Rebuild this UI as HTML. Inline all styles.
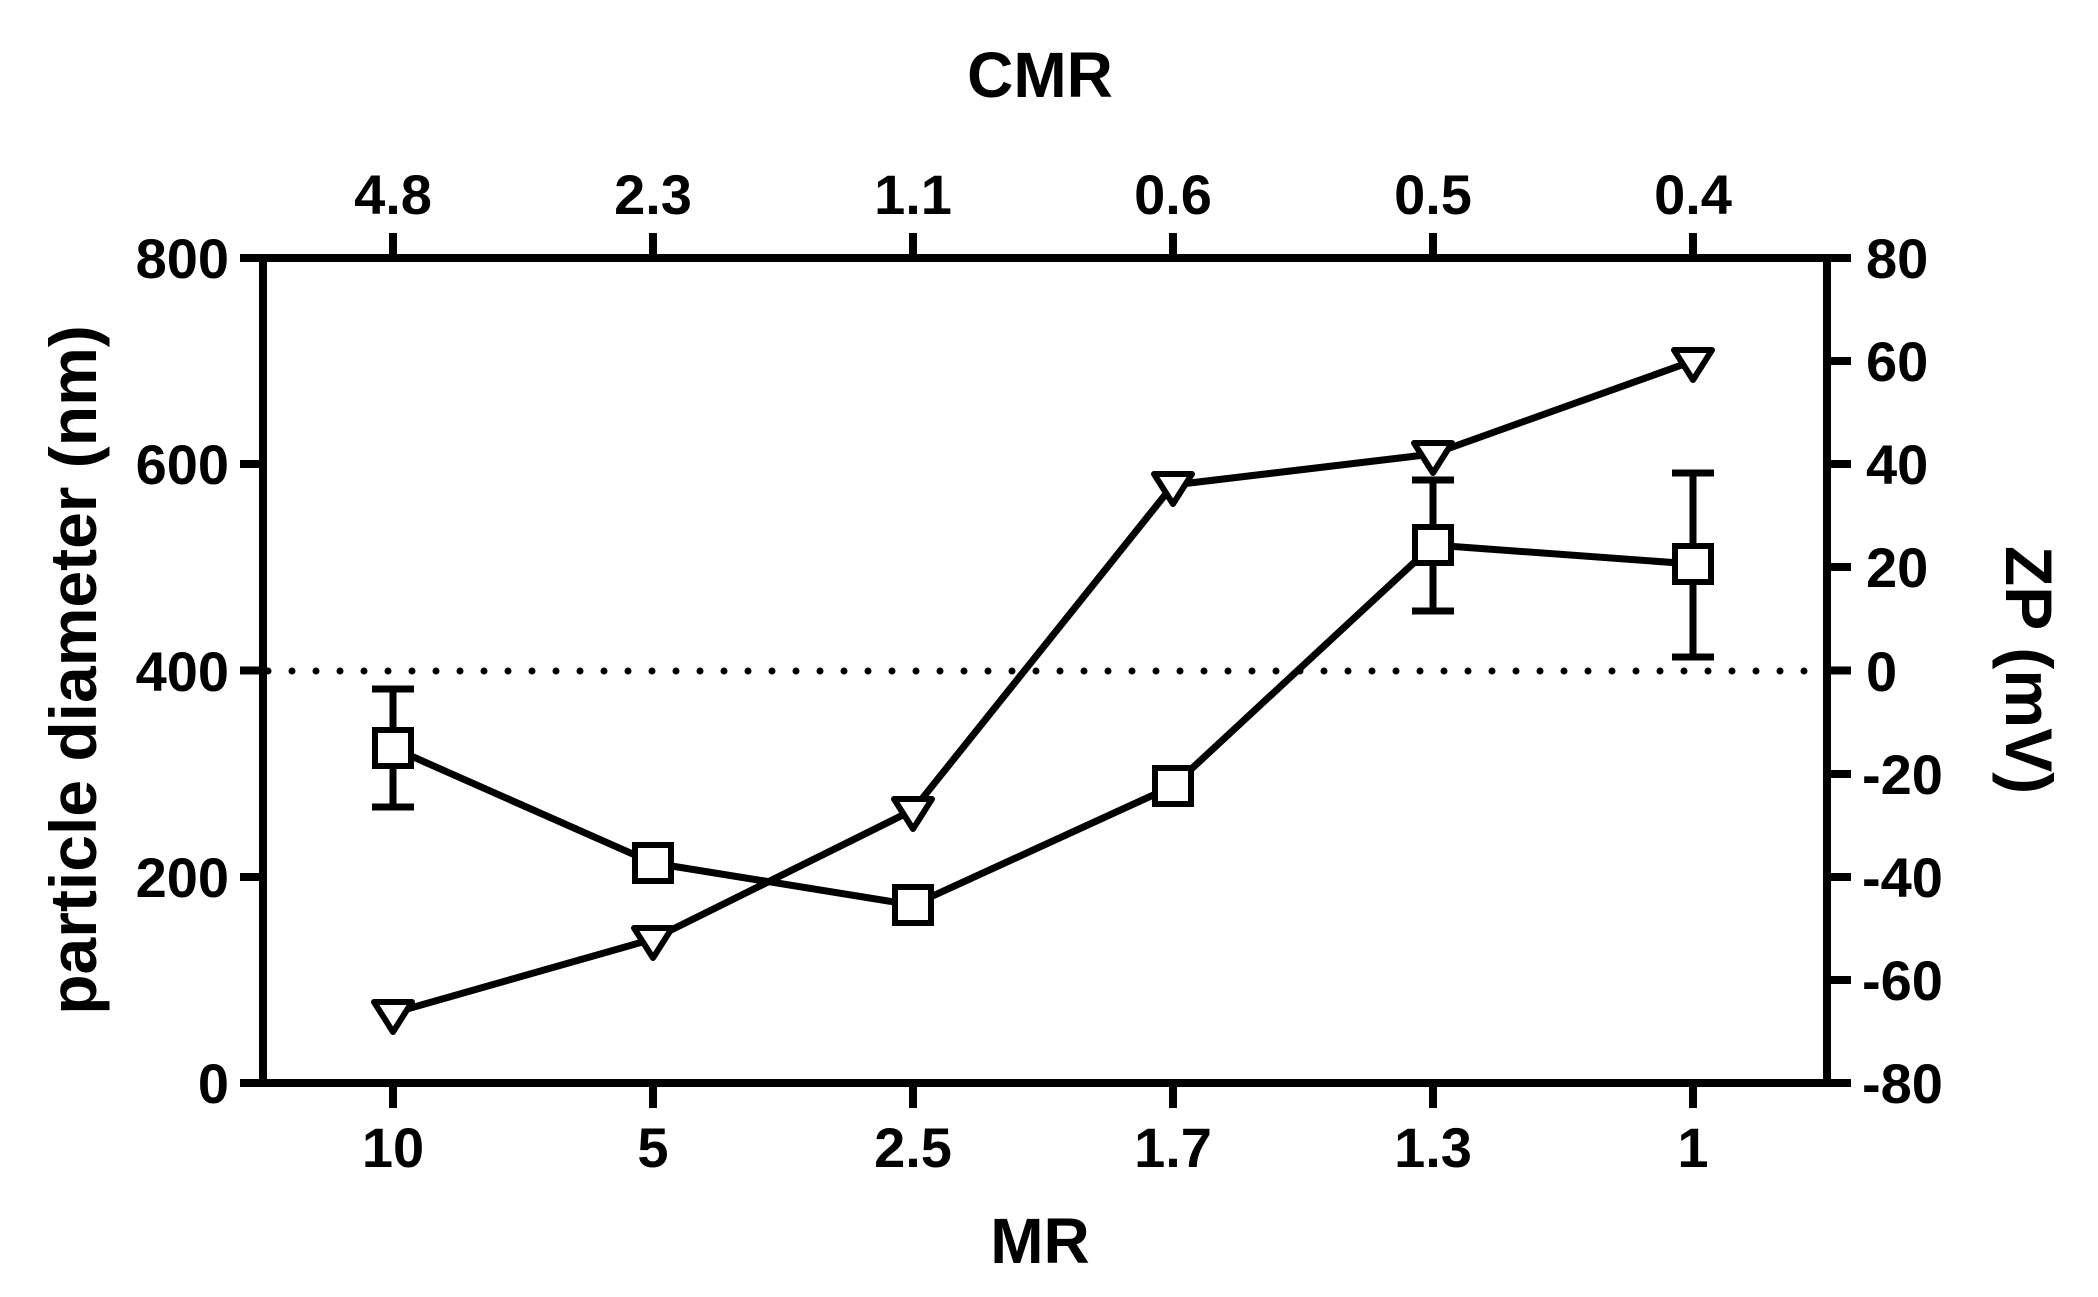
<!DOCTYPE html>
<html><head><meta charset="utf-8"><style>
html,body{margin:0;padding:0;background:#fff;}
svg{display:block;}
text{font-family:"Liberation Sans",Arial,sans-serif;font-weight:bold;fill:#000;}
</style></head><body>
<svg width="2098" height="1297" viewBox="0 0 2098 1297" xmlns="http://www.w3.org/2000/svg">
<g stroke="#000" stroke-width="8" fill="none">
<path d="M263,258 V1083 H1827 V258 Z" stroke-linejoin="miter"/>
<path d="M240,258H263 M240,464H263 M240,670.5H263 M240,877H263 M240,1083H263"/>
<path d="M1827,258H1851 M1827,361H1851 M1827,464H1851 M1827,567H1851 M1827,670.5H1851 M1827,774H1851 M1827,877H1851 M1827,980H1851 M1827,1083H1851"/>
<path d="M393,1083V1108 M653,1083V1108 M913,1083V1108 M1173,1083V1108 M1433,1083V1108 M1693,1083V1108"/>
<path d="M393,258V233 M653,258V233 M913,258V233 M1173,258V233 M1433,258V233 M1693,258V233"/>
</g>
<line x1="268" y1="671" x2="1822" y2="671" stroke="#000" stroke-width="7" stroke-dasharray="0 24" stroke-linecap="round"/>
<g stroke="#000" stroke-width="7" fill="none" stroke-linejoin="round">
<polyline points="393,748 653,863 913,905 1173,786 1433,545 1693,564"/>
<polyline points="393,1013 653,939 913,810 1173,485 1433,454 1693,361"/>
<path d="M393,689V807 M372,689H414 M372,807H414"/>
<path d="M1173,774V799 M1152,774H1194 M1152,799H1194"/>
<path d="M1433,480V611 M1412,480H1454 M1412,611H1454"/>
<path d="M1693,473V657 M1672,473H1714 M1672,657H1714"/>
</g>
<g stroke="#000" stroke-width="6" fill="#fff">
<rect x="375" y="730" width="36" height="36"/>
<rect x="635" y="845" width="36" height="36"/>
<rect x="895" y="887" width="36" height="36"/>
<rect x="1155" y="768" width="36" height="36"/>
<rect x="1415" y="527" width="36" height="36"/>
<rect x="1675" y="546" width="36" height="36"/>
</g>
<g stroke="#000" stroke-width="6" fill="#fff" stroke-linejoin="round">
<polygon points="374,1002 412,1002 393,1032"/>
<polygon points="634,928 672,928 653,958"/>
<polygon points="894,799 932,799 913,829"/>
<polygon points="1154,474 1192,474 1173,504"/>
<polygon points="1414,443 1452,443 1433,473"/>
<polygon points="1674,350 1712,350 1693,380"/>
</g>
<g font-size="56" text-anchor="end">
<text x="229" y="278">800</text>
<text x="229" y="484">600</text>
<text x="229" y="691">400</text>
<text x="229" y="897">200</text>
<text x="229" y="1103">0</text>
</g>
<g font-size="56" text-anchor="start">
<text x="1866" y="278">80</text>
<text x="1866" y="381">60</text>
<text x="1866" y="484">40</text>
<text x="1866" y="587">20</text>
<text x="1866" y="691">0</text>
<text x="1862" y="794">-20</text>
<text x="1862" y="897">-40</text>
<text x="1862" y="1000">-60</text>
<text x="1862" y="1103">-80</text>
</g>
<g font-size="56" text-anchor="middle">
<text x="393" y="1167">10</text>
<text x="653" y="1167">5</text>
<text x="913" y="1167">2.5</text>
<text x="1173" y="1167">1.7</text>
<text x="1433" y="1167">1.3</text>
<text x="1693" y="1167">1</text>
<text x="393" y="214">4.8</text>
<text x="653" y="214">2.3</text>
<text x="913" y="214">1.1</text>
<text x="1173" y="214">0.6</text>
<text x="1433" y="214">0.5</text>
<text x="1693" y="214">0.4</text>
<text x="1040" y="97" font-size="64">CMR</text>
<text x="1040" y="1263" font-size="64">MR</text>
<text transform="translate(96,670) rotate(-90)" font-size="66">particle diameter (nm)</text>
<text transform="translate(2006,670) rotate(90)" font-size="66">ZP (mV)</text>
</g>
</svg>
</body></html>
